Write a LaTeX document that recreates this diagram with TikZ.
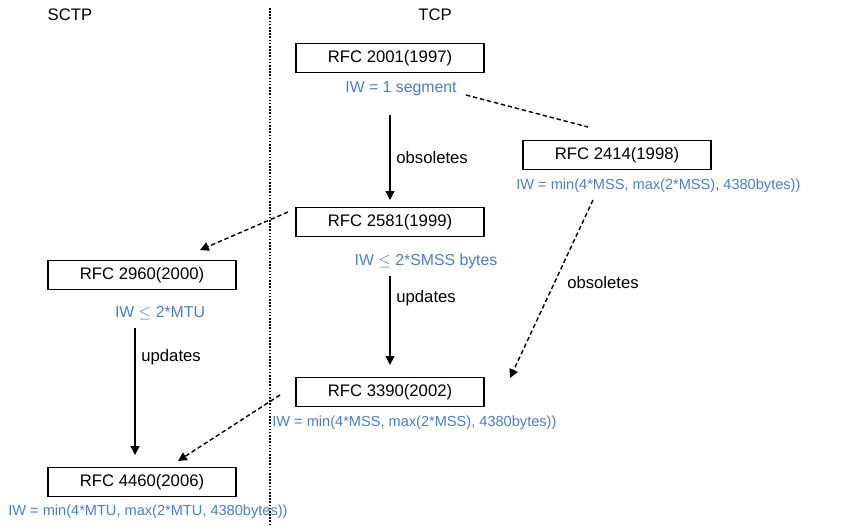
\documentclass[tikz,border=0pt]{standalone}
\usepackage{fontspec}
\setmainfont{Liberation Sans}
\usetikzlibrary{positioning, arrows.meta, calc}
\definecolor{iwblue}{RGB}{72,128,204}

\begin{document}
\begin{tikzpicture}[x=0.2mm, y=-0.2mm,
    every node/.style={font=\fontsize{9.5}{11}\selectfont},
    rfcbox/.style={draw, line width=0.6pt, minimum width=37.6mm, minimum height=5.8mm, inner sep=0pt},
    iwtext/.style={text=iwblue, font=\fontsize{8.3}{10}\selectfont, inner sep=0pt},
    iwshort/.style={iwtext, font=\fontsize{9}{10}\selectfont},
    rel/.style={-{Triangle[length=5pt, width=5pt]}, line width=0.6pt},
    reldash/.style={rel, dash pattern=on 2.5pt off 1.6pt, line width=0.8pt}]
    \useasboundingbox (0,0) rectangle (862,526);
    % column headings and the separator
    \node (sctp) at (70,15) {SCTP};
    \node (tcp) at (435,15) {TCP};
    \draw[dash pattern=on 0.9pt off 0.9pt, line width=1pt] (270,8) -- (270,526);
    % TCP side
    \node[rfcbox] (r2001) at (390,58) {RFC 2001(1997)};
    \node[iwshort] (iw2001) at (401,89) {IW = 1 segment};
    \node[rfcbox] (r2414) at (617,155) {RFC 2414(1998)};
    \node[iwtext, anchor=west] (iw2414) at (516,186) {IW = min(4*MSS, max(2*MSS), 4380bytes))};
    \node[rfcbox] (r2581) at (390,222) {RFC 2581(1999)};
    \node[iwshort] (iw2581) at (426,261) {IW $\leq$ 2*SMSS bytes};
    \node[rfcbox] (r3390) at (390,392) {RFC 3390(2002)};
    \node[iwtext, anchor=west] (iw3390) at (272,423) {IW = min(4*MSS, max(2*MSS), 4380bytes))};
    % SCTP side
    \node[rfcbox] (r2960) at (142,275) {RFC 2960(2000)};
    \node[iwshort] (iw2960) at (160,313) {IW $\leq$ 2*MTU};
    \node[rfcbox] (r4460) at (142,482) {RFC 4460(2006)};
    \node[iwtext, anchor=west] (iw4460) at (8,512) {IW = min(4*MTU, max(2*MTU, 4380bytes))};
    % free ends of the connectors
    \coordinate (a1) at (390,115);
    \coordinate (a2) at (390,200);
    \coordinate (b1) at (390,276);
    \coordinate (b2) at (390,365);
    \coordinate (c1) at (135,328);
    \coordinate (c2) at (135,455);
    \coordinate (d1) at (466,95);
    \coordinate (d2) at (588,127);
    \coordinate (e1) at (593,200);
    \coordinate (e2) at (510,378);
    \coordinate (f1) at (288,212);
    \coordinate (f2) at (200,250);
    \coordinate (g1) at (280,395);
    \coordinate (g2) at (178,461);
    % relations
    \draw[rel] (a1) -- node[right] {obsoletes} (a2);
    \draw[rel] (b1) -- node[right, pos=0.25] {updates} (b2);
    \draw[rel] (c1) -- node[right, pos=0.23] {updates} (c2);
    \draw[dash pattern=on 2.5pt off 1.6pt, line width=0.8pt] (d1) -- (d2);
    \draw[reldash] (e1) -- (e2);
    \node (obs) at (603,283) {obsoletes};
    \draw[reldash] (f1) -- (f2);
    \draw[reldash] (g1) -- (g2);
\end{tikzpicture}
\end{document}
